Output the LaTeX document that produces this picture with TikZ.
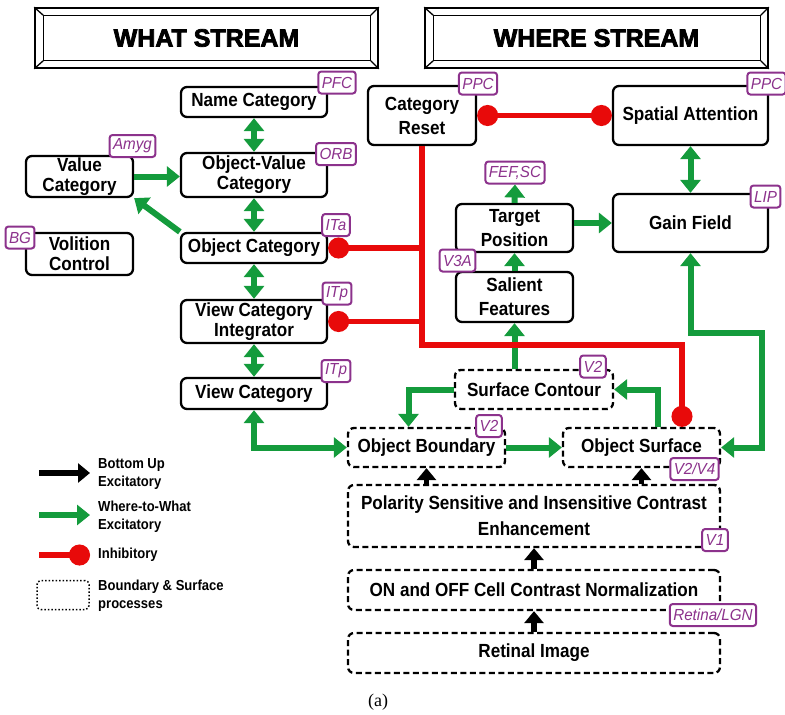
\documentclass[tikz,border=0pt]{standalone}
\usepackage{fontspec}
\setmainfont{Liberation Sans}
\newfontfamily\boxf{Liberation Sans}[FakeStretch=0.9]
\newfontfamily\tagf{Liberation Sans}[FakeStretch=0.95]
\newfontfamily\hdrf{Liberation Sans}[BoldFeatures={FakeBold=3}]
\newfontfamily\capf{Liberation Serif}
\usetikzlibrary{arrows.meta}
\definecolor{gr}{RGB}{20,155,60}
\definecolor{rd}{RGB}{232,10,10}
\definecolor{pu}{RGB}{140,50,140}
\begin{document}
\begin{tikzpicture}[x=1pt,y=-1pt,
 box/.style={draw=black, line width=2.3pt, rounded corners=6pt, fill=white, align=center, inner sep=0pt, font=\boxf\bfseries\fontsize{19}{20}\selectfont},
 dbox/.style={box, dash pattern=on 6pt off 3.5pt},
 tag/.style={draw=pu, text=pu, line width=2pt, rounded corners=3pt, fill=white, inner xsep=3.5pt, inner ysep=0pt, minimum height=22pt, font=\tagf\itshape\fontsize{16}{16}\selectfont},
 hdr/.style={draw=black, line width=1.6pt, minimum width=343pt, minimum height=60pt, inner sep=0pt, font=\hdrf\bfseries\fontsize{25}{25}\selectfont},
 garr/.style={draw=gr, line width=6pt, -{Triangle[length=13pt,width=20pt]}},
 gdarr/.style={draw=gr, line width=6pt, {Triangle[length=13pt,width=20pt]}-{Triangle[length=13pt,width=20pt]}},
 barr/.style={draw=black, line width=5.5pt, -{Triangle[length=12pt,width=19pt]}},
 rinh/.style={draw=rd, line width=5.5pt, -{Circle[length=21pt]}},
 rline/.style={draw=rd, line width=5.5pt},
 leg/.style={anchor=west, align=left, inner sep=0pt, font=\boxf\bfseries\fontsize{14.5}{18}\selectfont},
 bevel/.style={draw=black, line width=1.3pt}
]
\useasboundingbox (0,0) rectangle (785,715);

% headers
\node[hdr] (what) at (206.5,38) {WHAT STREAM};
\node[hdr] (where) at (596.5,38) {WHERE STREAM};
\foreach \h in {what,where}{
  \draw[bevel] ([shift={(9,8)}]\h.north west) rectangle ([shift={(-8,-8)}]\h.south east);
  \draw[bevel] (\h.north west) -- ([shift={(9,8)}]\h.north west);
  \draw[bevel] (\h.north east) -- ([shift={(-8,8)}]\h.north east);
  \draw[bevel] (\h.south west) -- ([shift={(9,-8)}]\h.south west);
  \draw[bevel] (\h.south east) -- ([shift={(-8,-8)}]\h.south east);
}

% what stream boxes
\node[box, minimum width=146pt, minimum height=30pt] (name) at (254,102) {Name Category};
\node[box, minimum width=146pt, minimum height=44pt] (objval) at (254,175) {Object-Value\\Category};
\node[box, minimum width=146pt, minimum height=30pt] (objcat) at (254,248) {Object Category};
\node[box, minimum width=146pt, minimum height=43pt] (vci) at (254,321.5) {View Category\\Integrator};
\node[box, minimum width=146pt, minimum height=31pt] (viewcat) at (254,393.5) {View Category};
\node[box, minimum width=107pt, minimum height=41pt] (value) at (79.5,176.5) {Value\\Category};
\node[box, minimum width=107pt, minimum height=42pt] (volition) at (79.5,254) {Volition\\Control};

% where stream boxes
\node[box, minimum width=108pt, minimum height=59pt] (reset) at (422,115.5) {Category\\[4pt]Reset};
\node[box, minimum width=155pt, minimum height=59pt] (spatial) at (690.5,115.5) {Spatial Attention};
\node[box, minimum width=155pt, minimum height=58pt] (gain) at (690.5,223) {Gain Field};
\node[box, minimum width=117pt, minimum height=48pt] (target) at (514.5,228) {Target\\[4pt]Position};
\node[box, minimum width=117pt, minimum height=50pt] (salient) at (514.5,297) {Salient\\[4pt]Features};

% boundary & surface processes
\node[dbox, minimum width=158pt, minimum height=39pt] (surfcont) at (534,389.5) {Surface Contour};
\node[dbox, minimum width=157pt, minimum height=39pt] (objbound) at (426.5,447.5) {Object Boundary};
\node[dbox, minimum width=157pt, minimum height=39pt] (objsurf) at (641.5,447.5) {Object Surface};
\node[dbox, minimum width=372pt, minimum height=62pt] (polarity) at (534,516) {Polarity Sensitive and Insensitive Contrast\\[6pt]Enhancement};
\node[dbox, minimum width=372pt, minimum height=40pt] (onoff) at (534,590) {ON and OFF Cell Contrast Normalization};
\node[dbox, minimum width=372pt, minimum height=40pt] (retinal) at (534,653) {Retinal Image};

% connectors: green
\draw[gdarr] (name.south) -- (objval.north);
\draw[gdarr] (objval.south) -- (objcat.north);
\draw[gdarr] (objcat.south) -- (vci.north);
\draw[gdarr] (vci.south) -- (viewcat.north);
\draw[garr] (value.east) -- (objval.west |- value.east);
\draw[garr] (objcat.north west) -- (value.south east);
\draw[gdarr] (viewcat.south) |- (objbound.west);
\draw[garr] (surfcont.west) -| ([xshift=-18pt]objbound.north);
\draw[garr] (objbound.east) -- (objsurf.west);
\draw[garr] ([xshift=16pt]objsurf.north) |- (surfcont.east);
\draw[garr] (salient.south |- surfcont.north) -- (salient.south);
\draw[garr] (salient.north) -- (target.south);
\node[tag] (fef) at (515,172.5) {FEF,SC};
\draw[garr] (target.north) -- (fef.south);
\draw[garr] (target.east |- gain.west) -- (gain.west);
\draw[gdarr] (spatial.south) -- (gain.north);
\coordinate (gA) at (762,333);
\draw[gdarr] (gain.south) -- (gain.south |- gA) -- (gA) -- (gA |- objsurf.east) -- (objsurf.east);

% connectors: red
\draw[rline, {Circle[length=21pt]}-{Circle[length=21pt]}] (reset.east) -- (spatial.west);
\coordinate (rA) at (682,345);
\draw[rinh] (reset.south) |- (rA) -- (rA |- objsurf.north);
\draw[rinh] (reset.south |- objcat.east) -- (objcat.east);
\draw[rinh] (reset.south |- vci.east) -- (vci.east);

% connectors: black
\draw[barr] (objbound.south |- polarity.north) -- (objbound.south);
\draw[barr] (objsurf.south |- polarity.north) -- (objsurf.south);
\draw[barr] (onoff.north) -- (polarity.south);
\draw[barr] (retinal.north) -- (onoff.south);

% tags
\node[tag] (tpfc) at (337,82.5) {PFC};
\node[tag] (torb) at (336,154) {ORB};
\node[tag] (tamyg) at (132.5,146) {Amyg};
\node[tag] (tbg) at (20,237.5) {BG};
\node[tag] (tita) at (336,225) {ITa};
\node[tag] (titp1) at (337,293.5) {ITp};
\node[tag] (titp2) at (336,371) {ITp};
\node[tag] (tppc1) at (478,83.5) {PPC};
\node[tag] (tppc2) at (766.5,83.5) {PPC};
\node[tag] (tlip) at (765.5,196.5) {LIP};
\node[tag] (tv3a) at (457.5,260.5) {V3A};
\node[tag] (tv2a) at (593,366.5) {V2};
\node[tag] (tv2b) at (489,426) {V2};
\node[tag] (tv2v4) at (694.5,469) {V2/V4};
\node[tag] (tv1) at (715,540) {V1};
\node[tag] (tret) at (713,615) {Retina/LGN};

% legend
\coordinate (l1a) at (39,473); \coordinate (l1b) at (90,473);
\draw[barr] (l1a) -- (l1b);
\node[leg] (l1t) at (98,474) {Bottom Up\\Excitatory};
\coordinate (l2a) at (39,515); \coordinate (l2b) at (90,515);
\draw[garr] (l2a) -- (l2b);
\node[leg] (l2t) at (98,517) {Where-to-What\\Excitatory};
\coordinate (l3a) at (39,555); \coordinate (l3b) at (90,555);
\draw[rinh] (l3a) -- (l3b);
\node[leg] (l3t) at (98,555) {Inhibitory};
\node[draw=black, dotted, line width=1.5pt, rounded corners=4pt, minimum width=52pt, minimum height=29pt] (l4) at (63,595) {};
\node[leg] (l4t) at (98,596) {Boundary \& Surface\\processes};

\node[inner sep=0pt, font=\capf\fontsize{18}{18}\selectfont] (cap) at (378,702) {(a)};
\end{tikzpicture}
\end{document}
